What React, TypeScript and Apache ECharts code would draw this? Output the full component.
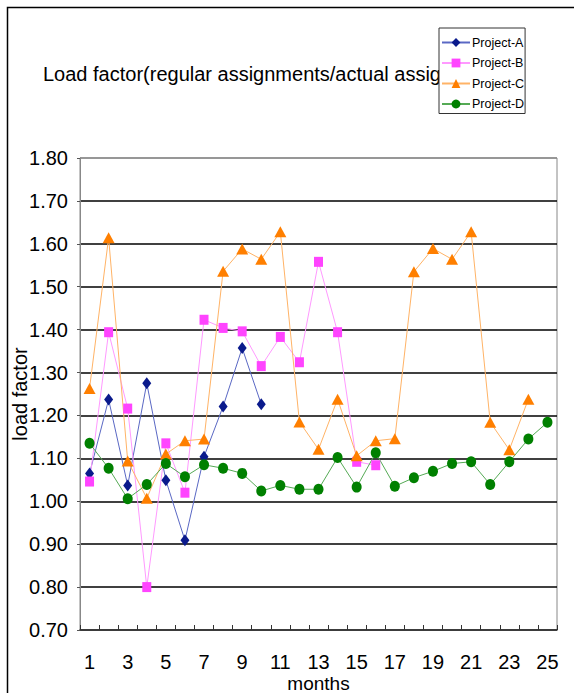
import React, { useEffect, useRef } from "react";
import * as echarts from "echarts";

const months = ["1","2","3","4","5","6","7","8","9","10","11","12","13","14","15","16","17","18","19","20","21","22","23","24","25"];
const projectA = [1.065, 1.237, 1.037, 1.275, 1.049, 0.909, 1.104, 1.221, 1.357, 1.226, null, null, null, null, null, null, null, null, null, null, null, null, null, null, null];
const projectB = [1.046, 1.394, 1.216, 0.8, 1.135, 1.02, 1.423, 1.404, 1.396, 1.315, 1.383, 1.324, 1.558, 1.394, 1.092, 1.084, null, null, null, null, null, null, null, null, null];
const projectC = [1.263, 1.614, 1.094, 1.007, 1.11, 1.141, 1.145, 1.536, 1.588, 1.564, 1.628, 1.185, 1.121, 1.238, 1.106, 1.141, 1.146, 1.535, 1.589, 1.564, 1.628, 1.184, 1.12, 1.238, null];
const projectD = [1.135, 1.077, 1.006, 1.039, 1.088, 1.057, 1.085, 1.077, 1.065, 1.024, 1.037, 1.028, 1.028, 1.102, 1.033, 1.113, 1.035, 1.055, 1.07, 1.088, 1.092, 1.039, 1.092, 1.145, 1.184];
const seriesNames = ["Project-A", "Project-B", "Project-C", "Project-D"];
const titleText = "Load factor(regular assignments/actual assig";

const FONT = "'Liberation Sans', Arial, sans-serif";

export default function App() {
  const ref = useRef<HTMLDivElement>(null);
  useEffect(() => {
    if (!ref.current) return;
    const chart = echarts.init(ref.current, null, { renderer: "svg" });
    const mk = (name: string, data: (number | null)[], symbol: string, size: number | number[], mColor: string, lColor: string) => ({
      name,
      type: "line",
      data,
      symbol,
      symbolSize: size,
      connectNulls: false,
      itemStyle: { color: mColor },
      lineStyle: { color: lColor, width: 1 },
      emphasis: { disabled: true },
    });
    const gridColors = ["#333", "#000", "#000", "#000", "#000", "#000", "#000", "#000", "#000", "#000", "#000", "#888"];
    chart.setOption({
      animation: false,
      backgroundColor: "#fff",
      textStyle: { fontFamily: FONT },
      graphic: [
        { type: "rect", shape: { x: 7.5, y: 7.5, width: 640, height: 740 }, style: { fill: "none", stroke: "#000", lineWidth: 1.5 }, z: 0 },
      ],
      title: {
        text: titleText,
        left: 38,
        top: 59,
        z: 1,
        textStyle: { fontFamily: FONT, fontSize: 20, fontWeight: "normal", color: "#000" },
      },
      legend: {
        orient: "vertical",
        left: 439,
        top: 28,
        z: 10,
        backgroundColor: "#fff",
        borderColor: "#333",
        borderWidth: 1,
        borderRadius: 0,
        padding: [8, 1, 3, 2],
        itemWidth: 28,
        itemHeight: 11,
        itemGap: 7.5,
        textStyle: { fontFamily: FONT, fontSize: 12.5, color: "#000", padding: [0, 0, 0, -3] },
        data: seriesNames,
      },
      grid: { left: 80, right: 17, top: 158, bottom: 63, show: true, borderColor: "#888", borderWidth: 1, outerBoundsMode: "none", containLabel: false },
      xAxis: {
        type: "category",
        data: months,
        boundaryGap: true,
        name: "months",
        nameLocation: "middle",
        nameGap: 44,
        nameMoveOverlap: false,
        nameTextStyle: { fontFamily: FONT, fontSize: 19, color: "#000" },
        axisLine: { lineStyle: { color: "#333", width: 1.5 } },
        axisTick: { show: true, inside: true, length: 5, interval: 0, lineStyle: { color: "#333" } },
        axisLabel: { interval: 1, margin: 22, fontFamily: FONT, fontSize: 20, color: "#000" },
        splitLine: { show: false },
      },
      yAxis: {
        type: "value",
        min: 0.7,
        max: 1.8,
        interval: 0.1,
        name: "load factor",
        nameLocation: "middle",
        nameGap: 50,
        nameMoveOverlap: false,
        nameTextStyle: { fontFamily: FONT, fontSize: 20, color: "#000" },
        axisLine: { show: true, lineStyle: { color: "#888", width: 1 } },
        axisTick: { show: true, length: 3, lineStyle: { color: "#555" } },
        axisLabel: { margin: 12, fontFamily: FONT, fontSize: 20, color: "#000", formatter: (v: number) => v.toFixed(2) },
        splitLine: { show: true, lineStyle: { color: gridColors, width: 1.6 } },
      },
      series: [
        mk(seriesNames[0], projectA, "diamond", [9, 12], "#0a1a8c", "#5a68c4"),
        mk(seriesNames[1], projectB, "rect", [9, 10], "#ff44ff", "#ff99ff"),
        mk(seriesNames[2], projectC, "triangle", [12, 11], "#ff7f00", "#ffb366"),
        mk(seriesNames[3], projectD, "circle", [10, 11], "#008000", "#55aa55"),
      ],
    });
    return () => chart.dispose();
  }, []);
  return <div ref={ref} style={{ position: "absolute", left: 0, top: 0, width: 574, height: 693 }} />;
}
